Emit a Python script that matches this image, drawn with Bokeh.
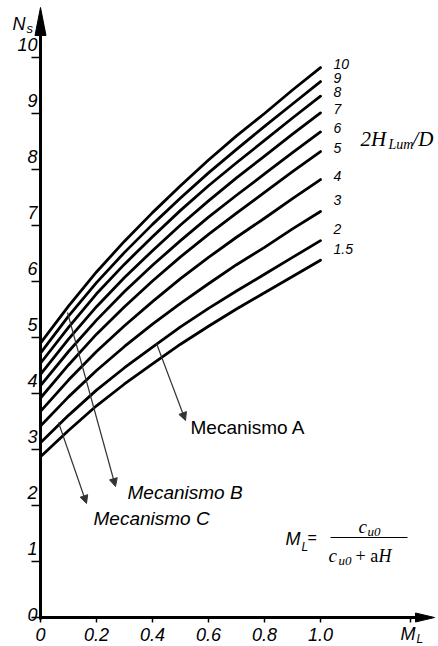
from bokeh.plotting import figure
from bokeh.models import Range1d, LinearAxis, FixedTicker, Arrow, NormalHead
from bokeh.core.properties import value
from bokeh.embed import file_html
from bokeh.resources import INLINE

# ---------------- data ----------------
ml = [0.0, 0.1, 0.2, 0.3, 0.4, 0.5, 0.6, 0.7, 0.8, 0.9, 1.0]
ratio_labels = ["10", "9", "8", "7", "6", "5", "4", "3", "2", "1.5"]
ns_10 = [4.90, 5.56, 6.17, 6.72, 7.23, 7.71, 8.17, 8.60, 9.00, 9.42, 9.82]
ns_9 = [4.72, 5.38, 5.98, 6.52, 7.02, 7.49, 7.94, 8.36, 8.77, 9.17, 9.57]
ns_8 = [4.54, 5.18, 5.78, 6.31, 6.80, 7.27, 7.71, 8.12, 8.52, 8.92, 9.31]
ns_7 = [4.34, 4.97, 5.55, 6.07, 6.55, 7.01, 7.44, 7.85, 8.24, 8.63, 9.01]
ns_6 = [4.14, 4.75, 5.31, 5.82, 6.29, 6.73, 7.15, 7.54, 7.92, 8.30, 8.67]
ns_5 = [3.92, 4.51, 5.06, 5.55, 6.01, 6.44, 6.84, 7.22, 7.59, 7.96, 8.32]
ns_4 = [3.68, 4.24, 4.75, 5.21, 5.64, 6.05, 6.43, 6.79, 7.13, 7.48, 7.82]
ns_3 = [3.42, 3.94, 4.41, 4.84, 5.24, 5.61, 5.96, 6.30, 6.61, 6.94, 7.25]
ns_2 = [3.12, 3.61, 4.06, 4.46, 4.83, 5.19, 5.52, 5.83, 6.13, 6.43, 6.73]
ns_15 = [2.87, 3.34, 3.78, 4.17, 4.53, 4.88, 5.20, 5.51, 5.80, 6.09, 6.38]
curves = [ns_10, ns_9, ns_8, ns_7, ns_6, ns_5, ns_4, ns_3, ns_2, ns_15]

y_ticks = [0, 1, 2, 3, 4, 5, 6, 7, 8, 9, 10]
y_tick_labels = ["0", "1", "2", "3", "4", "5", "6", "7", "8", "9", "10"]
x_ticks = [0.0, 0.2, 0.4, 0.6, 0.8, 1.0]
x_tick_labels = ["0", "0.2", "0.4", "0.6", "0.8", "1.0"]
ml_tick = 1.32

# ---------------- layout helpers ----------------
W, H = 438, 646
OX, OY = 40, 617      # origin in figure pixels
SX, SY = 280.0, 56.0  # pixels per unit


def dx(px):  # page pixel x -> data
    return (px - OX) / SX


def dy(py):  # page pixel y -> data
    return (OY - py) / SY


p = figure(width=W, height=H,
           x_range=Range1d(-OX / SX, (W - OX) / SX),
           y_range=Range1d((OY - H) / SY, OY / SY),
           min_border=0, toolbar_location=None, output_backend="svg",
           x_axis_location=None, y_axis_location=None)
p.grid.visible = False
p.outline_line_color = None

SANS = "Liberation Sans"
SERIF = "Liberation Serif"


def txt(x, y, s, size, font=SANS, style="normal", align="left", baseline="middle", color="black"):
    p.text(x=[x], y=[y], text=[s], text_font=value(font), text_font_size=size,
           text_font_style=style, text_align=align, text_baseline=baseline, text_color=color)


# ---------------- axes ----------------
yax = LinearAxis(fixed_location=0, ticker=FixedTicker(ticks=y_ticks), bounds=(-0.03, 10.5),
                 axis_line_width=3, axis_line_color="black",
                 major_tick_out=9, major_tick_in=0, major_tick_line_width=1.5,
                 minor_tick_out=0, minor_tick_in=0,
                 major_label_overrides={t: "" for t in y_ticks})
p.add_layout(yax, "left")

xax = LinearAxis(fixed_location=0, ticker=FixedTicker(ticks=x_ticks + [ml_tick]), bounds=(-0.005, 1.36),
                 axis_line_width=3, axis_line_color="black",
                 major_tick_out=5, major_tick_in=0, major_tick_line_width=1.5,
                 minor_tick_out=0, minor_tick_in=0,
                 major_label_overrides={t: "" for t in x_ticks + [ml_tick]})
p.add_layout(xax, "below")

# axis arrowheads
ytip = dy(7)
p.patch(x=[0, -5.5 / SX, 5.5 / SX], y=[ytip, ytip - 28 / SY, ytip - 28 / SY], color="black")
xtip = dx(434)
p.patch(x=[xtip, xtip - 19 / SX, xtip - 19 / SX], y=[0, 4.5 / SY, -4.5 / SY], color="black")

# tick labels
for t, lab in zip(y_ticks, y_tick_labels):
    off = 0.05 if t == 0 else 0.24
    txt(dx(37), t + off, lab, "18px", style="italic", align="right")
for t, lab in zip(x_ticks, x_tick_labels):
    txt(t, dy(634), lab, "18px", style="italic", align="center")

# axis titles
txt(dx(12), dy(23), "N", "18px", style="italic")
txt(dx(26), dy(28), "s", "13px", style="italic")
txt(dx(400), dy(633), "M", "18px", style="italic")
txt(dx(416), dy(638), "L", "12px", style="italic")

# ---------------- curves ----------------
for ns in curves:
    p.line(ml, ns, line_color="black", line_width=2.8, line_join="round", line_cap="round")

for lab, ns in zip(ratio_labels, curves):
    off = 0.2 if lab in ("3", "2", "1.5") else 0.07
    txt(dx(333), ns[-1] + off, lab, "14px", style="italic")

# 2H_Lum/D
txt(dx(360), dy(138), "2H", "21px", font=SERIF, style="italic")
txt(dx(388), dy(144), "Lum", "14px", font=SERIF, style="italic")
txt(dx(412), dy(138), "/D", "21px", font=SERIF, style="italic")

# ---------------- mechanism annotations ----------------
ARC = "#333333"
for (xs, ys, xe, ye) in [(156, 343, 185, 420), (67, 312, 115, 486), (58, 422, 86, 503)]:
    p.add_layout(Arrow(end=NormalHead(size=8, fill_color=ARC, line_color=ARC),
                       x_start=dx(xs), y_start=dy(ys), x_end=dx(xe), y_end=dy(ye),
                       line_color=ARC, line_width=1.2))

txt(dx(190), dy(427), "Mecanismo A", "19px")
txt(dx(127), dy(492), "Mecanismo B", "19px", style="italic")
txt(dx(93), dy(518), "Mecanismo C", "19px", style="italic")

# ---------------- formula ----------------
txt(dx(285), dy(538), "M", "18px", style="italic")
txt(dx(301), dy(546), "L", "12px", style="italic")
txt(dx(307), dy(537), "=", "16px")
p.line([dx(330), dx(407)], [dy(537), dy(537)], line_color="black", line_width=1)
txt(dx(358), dy(526), "c", "19px", font=SERIF, style="italic")
txt(dx(367), dy(531), "u0", "13px", font=SERIF, style="italic")
txt(dx(328), dy(555), "c", "19px", font=SERIF, style="italic")
txt(dx(338), dy(560), "u0", "13px", font=SERIF, style="italic")
txt(dx(355), dy(555), "+ a", "18px", font=SERIF)
txt(dx(378), dy(555), "H", "18px", font=SERIF, style="italic")

open("out.html", "w").write(file_html(p, INLINE))
